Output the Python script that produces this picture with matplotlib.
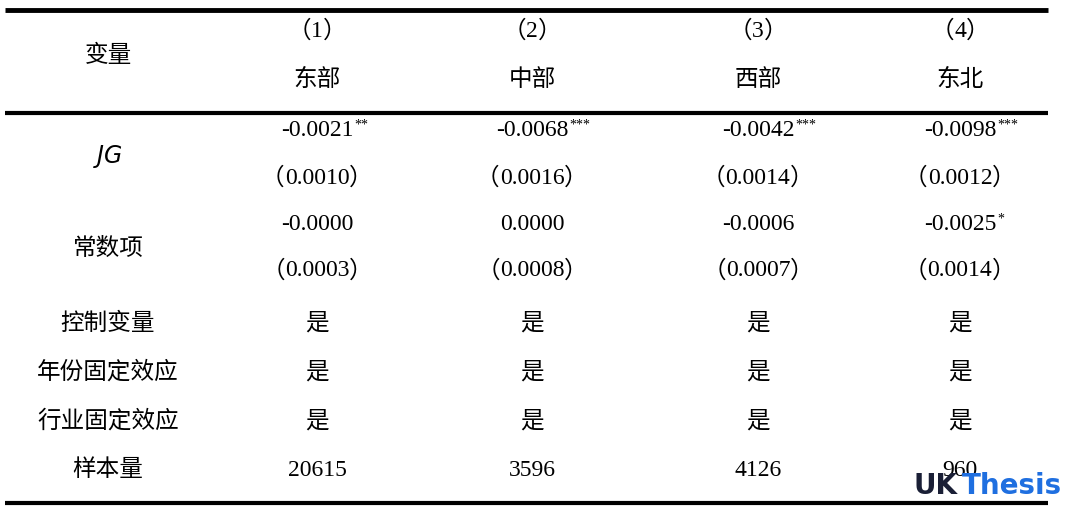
import matplotlib.pyplot as plt

W, H = 1067, 509
cols = ["1", "2", "3", "4"]
regions = ["东部", "中部", "西部", "东北"]
jg_coef = ["-0.0021", "-0.0068", "-0.0042", "-0.0098"]
jg_stars = ["**", "***", "***", "***"]
jg_se = ["0.0010", "0.0016", "0.0014", "0.0012"]
const_coef = ["-0.0000", "0.0000", "-0.0006", "-0.0025"]
const_stars = ["", "", "", "*"]
const_se = ["0.0003", "0.0008", "0.0007", "0.0014"]
yes_rows = ["控制变量", "年份固定效应", "行业固定效应"]
n_obs = ["20615", "3596", "4126", "960"]

col_x = [317, 532, 758, 960]
label_x = 108
serif = ["Liberation Serif", "Noto Sans CJK SC"]
cjk = ["Noto Sans CJK SC", "Liberation Serif"]
fs = 17

fig = plt.figure(figsize=(W / 100, H / 100), dpi=100)
ax = fig.add_axes([0, 0, 1, 1])
ax.set_xlim(0, W)
ax.set_ylim(H, 0)
ax.axis("off")

for y, lw in [(10, 3.5), (113, 3), (503, 3)]:
    ax.plot([5, 1048], [y, y], color="black", lw=lw, solid_capstyle="butt")

fig.canvas.draw()
r = fig.canvas.get_renderer()


def txt(x, y, s, family=cjk, size=fs):
    return ax.text(x, y, s, ha="center", va="center", fontsize=size, family=family)


def paren(x, y, s):
    # fullwidth brackets from the CJK font, digits from the serif font
    parts = [("（", cjk), (s, serif), ("）", cjk)]
    tmp = [ax.text(0, 0, p, fontsize=fs, family=f) for p, f in parts]
    ws = [t.get_window_extent(r).width for t in tmp]
    for t in tmp:
        t.remove()
    left = x - sum(ws) / 2
    for (p, f), w in zip(parts, ws):
        ax.text(left, y, p, ha="left", va="center", fontsize=fs, family=f)
        left += w


txt(label_x, 55, "变量")
txt(label_x, 157, "$JG$")
txt(label_x, 248, "常数项")
for i, s in enumerate(yes_rows):
    txt(label_x, [323, 372, 421][i], s)
txt(label_x, 470, "样本量")

for i, x in enumerate(col_x):
    paren(x, 31, cols[i])
    txt(x, 79, regions[i])
    for y, coef, st in [(131, jg_coef[i], jg_stars[i]), (225, const_coef[i], const_stars[i])]:
        t = txt(x, y, coef, family=serif)
        if st:
            bb = t.get_window_extent(r)
            ax.text(x + bb.width / 2 + 1, y - 6, st, ha="left", va="center",
                    fontsize=10, family=serif)
    paren(x, 178, jg_se[i])
    paren(x, 271, const_se[i])
    for y in [323, 372, 421]:
        txt(x, y, "是")
    txt(x, 470, n_obs[i], family=serif)

ax.text(914, 486, "UK", ha="left", va="center", fontsize=20, weight="bold",
        color="#1a1f36", family="DejaVu Sans")
ax.text(962, 486, "Thesis", ha="left", va="center", fontsize=20, weight="bold",
        color="#1f6fe0", family="DejaVu Sans")

fig.savefig("out.png", dpi=100)
